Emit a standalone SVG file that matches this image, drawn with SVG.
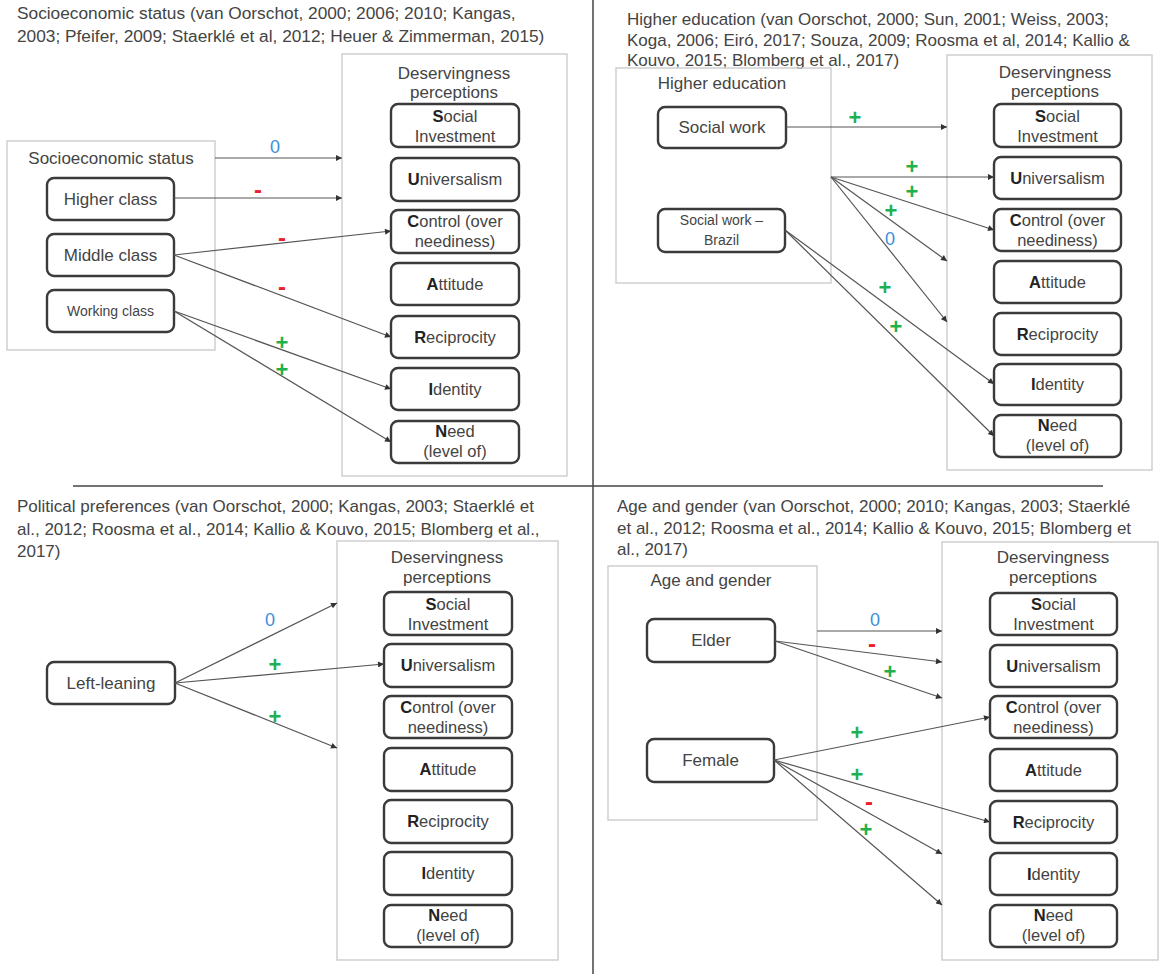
<svg xmlns="http://www.w3.org/2000/svg" width="1160" height="974" viewBox="0 0 1160 974">
<style>
text{font-family:"Liberation Sans",Arial,Helvetica,sans-serif;fill:#444}
.ti{font-size:17px}
.ti1{font-size:17.3px}
.gl{font-size:17px;text-anchor:middle}
.nt{font-size:16.5px;text-anchor:middle}
.sm{font-size:14px;text-anchor:middle}
.grp{fill:none;stroke:#cfcfcf;stroke-width:1.5}
.node{fill:#fff;stroke:#3a3a3a;stroke-width:2.4}
.div{stroke:#444;stroke-width:1.5}
.conn line{stroke:#555;stroke-width:1.2;marker-end:url(#ah)}
.b{font-weight:bold;fill:#222}
.z{font-size:18px;fill:#3b8fd8;text-anchor:middle}
.m{font-size:24px;font-weight:bold;fill:#e8222a;text-anchor:middle}
.p{font-size:22px;font-weight:bold;fill:#1fb050;text-anchor:middle}
</style>
<defs>
<marker id="ah" viewBox="0 0 10 10" refX="10" refY="5" markerWidth="7" markerHeight="6" markerUnits="userSpaceOnUse" orient="auto"><path d="M0,0 L10,5 L0,10 z" fill="#333"/></marker>
</defs>
<rect width="1160" height="974" fill="#fff"/>
<g id="dividers">
<line class="div" x1="593" y1="0" x2="593" y2="974"/>
<line class="div" x1="73" y1="486" x2="1103" y2="486"/>
</g>

<!-- Q1 -->
<g id="q1-title">
<text class="ti1" x="17" y="19">Socioeconomic status (van Oorschot, 2000; 2006; 2010; Kangas,</text>
<text class="ti1" x="17" y="42">2003; Pfeifer, 2009; Staerklé et al, 2012; Heuer &amp; Zimmerman, 2015)</text>
</g>
<g id="q1-ses">
<rect class="grp" x="7" y="141" width="208" height="209"/>
<text class="gl" x="111" y="164">Socioeconomic status</text>
</g>
<g id="q1-higher"><rect class="node" x="47" y="178" width="127" height="42" rx="7"/><text class="gl" x="110.5" y="205">Higher class</text></g>
<g id="q1-middle"><rect class="node" x="47" y="234" width="127" height="42" rx="7"/><text class="gl" x="110.5" y="261">Middle class</text></g>
<g id="q1-working"><rect class="node" x="47" y="290" width="127" height="42" rx="7"/><text class="sm" x="110.5" y="316">Working class</text></g>
<g id="q1-dp">
<rect class="grp" x="342" y="54" width="225" height="422"/>
<text class="gl" x="454" y="79">Deservingness</text>
<text class="gl" x="454" y="98">perceptions</text>
</g>
<g id="q1-s"><rect class="node" x="391" y="104" width="128" height="43" rx="7"/><text class="nt" x="455" y="122"><tspan class="b">S</tspan>ocial</text><text class="nt" x="455" y="142">Investment</text></g>
<g id="q1-u"><rect class="node" x="391" y="158" width="128" height="43" rx="7"/><text class="nt" x="455" y="185"><tspan class="b">U</tspan>niversalism</text></g>
<g id="q1-c"><rect class="node" x="391" y="210" width="128" height="43" rx="7"/><text class="nt" x="455" y="227"><tspan class="b">C</tspan>ontrol (over</text><text class="nt" x="455" y="247">neediness)</text></g>
<g id="q1-a"><rect class="node" x="391" y="263" width="128" height="42" rx="7"/><text class="nt" x="455" y="290"><tspan class="b">A</tspan>ttitude</text></g>
<g id="q1-r"><rect class="node" x="391" y="316" width="128" height="42" rx="7"/><text class="nt" x="455" y="343"><tspan class="b">R</tspan>eciprocity</text></g>
<g id="q1-i"><rect class="node" x="391" y="368" width="128" height="42" rx="7"/><text class="nt" x="455" y="395"><tspan class="b">I</tspan>dentity</text></g>
<g id="q1-n"><rect class="node" x="391" y="421" width="128" height="42" rx="7"/><text class="nt" x="455" y="437"><tspan class="b">N</tspan>eed</text><text class="nt" x="455" y="457">(level of)</text></g>

<!-- Q2 -->
<g id="q2-title">
<text class="ti" x="627" y="25">Higher education (van Oorschot, 2000; Sun, 2001; Weiss, 2003;</text>
<text class="ti" x="627" y="46">Koga, 2006; Eiró, 2017; Souza, 2009; Roosma et al, 2014; Kallio &amp;</text>
<text class="ti" x="627" y="66">Kouvo, 2015; Blomberg et al., 2017)</text>
</g>
<g id="q2-he">
<rect class="grp" x="616" y="68" width="215" height="215"/>
<text class="gl" x="722" y="89">Higher education</text>
</g>
<g id="q2-sw"><rect class="node" x="658" y="107" width="128" height="41" rx="7"/><text class="gl" x="722" y="133">Social work</text></g>
<g id="q2-swb"><rect class="node" x="658" y="209" width="127" height="43" rx="7"/><text class="sm" x="721.5" y="225">Social work –</text><text class="sm" x="721.5" y="245">Brazil</text></g>
<g id="q2-dp">
<rect class="grp" x="947" y="55" width="205" height="415"/>
<text class="gl" x="1055" y="78">Deservingness</text>
<text class="gl" x="1055" y="97">perceptions</text>
</g>
<g id="q2-s"><rect class="node" x="994" y="104" width="127" height="43" rx="7"/><text class="nt" x="1057.5" y="122"><tspan class="b">S</tspan>ocial</text><text class="nt" x="1057.5" y="142">Investment</text></g>
<g id="q2-u"><rect class="node" x="994" y="157" width="127" height="42" rx="7"/><text class="nt" x="1057.5" y="184"><tspan class="b">U</tspan>niversalism</text></g>
<g id="q2-c"><rect class="node" x="994" y="209" width="127" height="42" rx="7"/><text class="nt" x="1057.5" y="226"><tspan class="b">C</tspan>ontrol (over</text><text class="nt" x="1057.5" y="246">neediness)</text></g>
<g id="q2-a"><rect class="node" x="994" y="261" width="127" height="42" rx="7"/><text class="nt" x="1057.5" y="288"><tspan class="b">A</tspan>ttitude</text></g>
<g id="q2-r"><rect class="node" x="994" y="313" width="127" height="42" rx="7"/><text class="nt" x="1057.5" y="340"><tspan class="b">R</tspan>eciprocity</text></g>
<g id="q2-i"><rect class="node" x="994" y="364" width="127" height="41" rx="7"/><text class="nt" x="1057.5" y="390"><tspan class="b">I</tspan>dentity</text></g>
<g id="q2-n"><rect class="node" x="994" y="415" width="127" height="42" rx="7"/><text class="nt" x="1057.5" y="431"><tspan class="b">N</tspan>eed</text><text class="nt" x="1057.5" y="451">(level of)</text></g>

<!-- Q3 -->
<g id="q3-title">
<text class="ti" x="17" y="512">Political preferences (van Oorschot, 2000; Kangas, 2003; Staerklé et</text>
<text class="ti" x="17" y="535">al., 2012; Roosma et al., 2014; Kallio &amp; Kouvo, 2015; Blomberg et al.,</text>
<text class="ti" x="17" y="557">2017)</text>
</g>
<g id="q3-left"><rect class="node" x="47" y="662" width="128" height="42" rx="7"/><text class="gl" x="111" y="689">Left-leaning</text></g>
<g id="q3-dp">
<rect class="grp" x="337" y="541" width="221" height="419"/>
<text class="gl" x="447" y="563">Deservingness</text>
<text class="gl" x="447" y="583">perceptions</text>
</g>
<g id="q3-s"><rect class="node" x="384" y="592" width="128" height="43" rx="7"/><text class="nt" x="448" y="610"><tspan class="b">S</tspan>ocial</text><text class="nt" x="448" y="630">Investment</text></g>
<g id="q3-u"><rect class="node" x="384" y="644" width="128" height="43" rx="7"/><text class="nt" x="448" y="671"><tspan class="b">U</tspan>niversalism</text></g>
<g id="q3-c"><rect class="node" x="384" y="696" width="128" height="42" rx="7"/><text class="nt" x="448" y="713"><tspan class="b">C</tspan>ontrol (over</text><text class="nt" x="448" y="733">neediness)</text></g>
<g id="q3-a"><rect class="node" x="384" y="748" width="128" height="43" rx="7"/><text class="nt" x="448" y="775"><tspan class="b">A</tspan>ttitude</text></g>
<g id="q3-r"><rect class="node" x="384" y="800" width="128" height="43" rx="7"/><text class="nt" x="448" y="827"><tspan class="b">R</tspan>eciprocity</text></g>
<g id="q3-i"><rect class="node" x="384" y="852" width="128" height="43" rx="7"/><text class="nt" x="448" y="879"><tspan class="b">I</tspan>dentity</text></g>
<g id="q3-n"><rect class="node" x="384" y="905" width="128" height="42" rx="7"/><text class="nt" x="448" y="921"><tspan class="b">N</tspan>eed</text><text class="nt" x="448" y="941">(level of)</text></g>

<!-- Q4 -->
<g id="q4-title">
<text class="ti" x="617" y="512">Age and gender (van Oorschot, 2000; 2010; Kangas, 2003; Staerklé</text>
<text class="ti" x="617" y="534">et al., 2012; Roosma et al., 2014; Kallio &amp; Kouvo, 2015; Blomberg et</text>
<text class="ti" x="617" y="555">al., 2017)</text>
</g>
<g id="q4-ag">
<rect class="grp" x="608" y="566" width="209" height="254"/>
<text class="gl" x="711" y="586">Age and gender</text>
</g>
<g id="q4-elder"><rect class="node" x="647" y="619" width="128" height="43" rx="7"/><text class="gl" x="711" y="646">Elder</text></g>
<g id="q4-female"><rect class="node" x="647" y="739" width="127" height="43" rx="7"/><text class="gl" x="710.5" y="766">Female</text></g>
<g id="q4-dp">
<rect class="grp" x="942" y="542" width="216" height="418"/>
<text class="gl" x="1053" y="563">Deservingness</text>
<text class="gl" x="1053" y="583">perceptions</text>
</g>
<g id="q4-s"><rect class="node" x="990" y="593" width="127" height="42" rx="7"/><text class="nt" x="1053.5" y="610"><tspan class="b">S</tspan>ocial</text><text class="nt" x="1053.5" y="630">Investment</text></g>
<g id="q4-u"><rect class="node" x="990" y="645" width="127" height="42" rx="7"/><text class="nt" x="1053.5" y="672"><tspan class="b">U</tspan>niversalism</text></g>
<g id="q4-c"><rect class="node" x="990" y="696" width="127" height="42" rx="7"/><text class="nt" x="1053.5" y="713"><tspan class="b">C</tspan>ontrol (over</text><text class="nt" x="1053.5" y="733">neediness)</text></g>
<g id="q4-a"><rect class="node" x="990" y="749" width="127" height="42" rx="7"/><text class="nt" x="1053.5" y="776"><tspan class="b">A</tspan>ttitude</text></g>
<g id="q4-r"><rect class="node" x="990" y="801" width="127" height="42" rx="7"/><text class="nt" x="1053.5" y="828"><tspan class="b">R</tspan>eciprocity</text></g>
<g id="q4-i"><rect class="node" x="990" y="853" width="127" height="42" rx="7"/><text class="nt" x="1053.5" y="880"><tspan class="b">I</tspan>dentity</text></g>
<g id="q4-n"><rect class="node" x="990" y="905" width="127" height="42" rx="7"/><text class="nt" x="1053.5" y="921"><tspan class="b">N</tspan>eed</text><text class="nt" x="1053.5" y="941">(level of)</text></g>

<g class="conn" id="connectors">
<line x1="215" y1="158" x2="342" y2="158"/>
<line x1="174" y1="198" x2="342" y2="198"/>
<line x1="174" y1="255" x2="391" y2="231"/>
<line x1="174" y1="255" x2="391" y2="337"/>
<line x1="174" y1="311" x2="391" y2="389"/>
<line x1="174" y1="311" x2="391" y2="442"/>

<line x1="786" y1="127" x2="947" y2="127"/>
<line x1="831" y1="177" x2="994" y2="177"/>
<line x1="831" y1="177" x2="994" y2="230"/>
<line x1="831" y1="177" x2="947" y2="261"/>
<line x1="831" y1="177" x2="947" y2="322"/>
<line x1="785" y1="230" x2="994" y2="384"/>
<line x1="785" y1="230" x2="994" y2="436"/>

<line x1="175" y1="683" x2="337" y2="603"/>
<line x1="175" y1="683" x2="384" y2="664"/>
<line x1="175" y1="683" x2="337" y2="748"/>

<line x1="817" y1="631" x2="942" y2="631"/>
<line x1="775" y1="641" x2="942" y2="662"/>
<line x1="775" y1="641" x2="942" y2="698"/>
<line x1="774" y1="760" x2="990" y2="717"/>
<line x1="774" y1="760" x2="990" y2="822"/>
<line x1="774" y1="760" x2="942" y2="854"/>
<line x1="774" y1="760" x2="942" y2="905"/>
</g>

<g id="labels">
<text class="z" x="275" y="153">0</text>
<text class="m" x="258" y="198">-</text>
<text class="m" x="282" y="246">-</text>
<text class="m" x="282" y="295">-</text>
<text class="p" x="282" y="350">+</text>
<text class="p" x="282" y="377">+</text>

<text class="p" x="855" y="125">+</text>
<text class="p" x="912" y="174">+</text>
<text class="p" x="912" y="199">+</text>
<text class="p" x="891" y="218">+</text>
<text class="z" x="890" y="245">0</text>
<text class="p" x="885" y="295">+</text>
<text class="p" x="896" y="334">+</text>

<text class="z" x="270" y="626">0</text>
<text class="p" x="275" y="672">+</text>
<text class="p" x="275" y="724">+</text>

<text class="z" x="875" y="626">0</text>
<text class="m" x="872" y="652">-</text>
<text class="p" x="890" y="679">+</text>
<text class="p" x="857" y="740">+</text>
<text class="p" x="857" y="782">+</text>
<text class="m" x="869" y="810">-</text>
<text class="p" x="866" y="837">+</text>
</g>
</svg>
